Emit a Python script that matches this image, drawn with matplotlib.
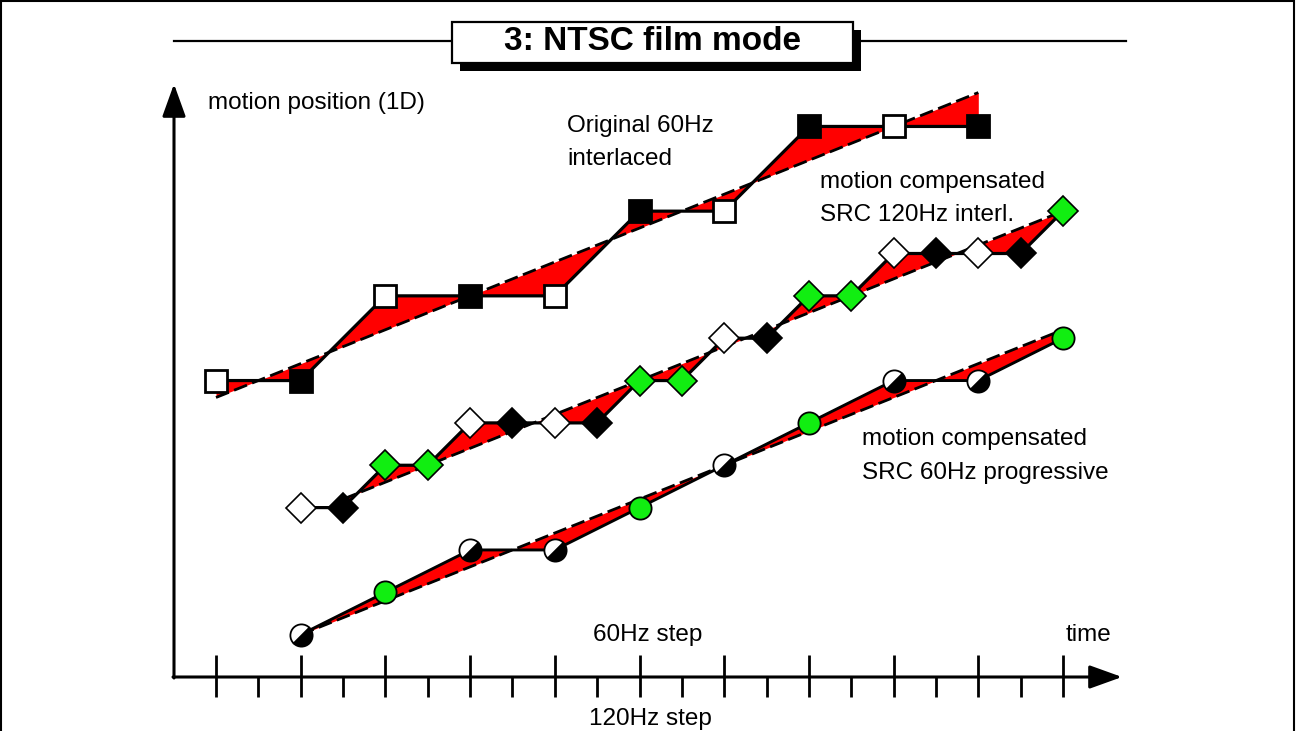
import numpy as np
import matplotlib
matplotlib.use("Agg")
import matplotlib.pyplot as plt
from matplotlib.markers import MarkerStyle
from matplotlib.patches import Rectangle
from matplotlib.transforms import Affine2D

plt.rcParams['font.family'] = ['Liberation Sans', 'DejaVu Sans']

# time in 120Hz steps, position in arbitrary units
t_top = [0, 2, 4, 6, 8, 10, 12, 14, 16, 18]
pos_top = [7, 7, 9, 9, 9, 11, 11, 13, 13, 13]
kind_top = ['w', 'k', 'w', 'k', 'w', 'k', 'w', 'k', 'w', 'k']
dash_top_t = [0, 18]
dash_top_pos = [6.6, 13.8]

t_mid = [2, 3, 4, 5, 6, 7, 8, 9, 10, 11, 12, 13, 14, 15, 16, 17, 18, 19, 20]
pos_mid = [4, 4, 5, 5, 6, 6, 6, 6, 7, 7, 8, 8, 9, 9, 10, 10, 10, 10, 11]
kind_mid = ['w', 'k', 'g', 'g', 'w', 'k', 'w', 'k', 'g', 'g',
            'w', 'k', 'g', 'g', 'w', 'k', 'w', 'k', 'g']
dash_mid_t = [3, 20]
dash_mid_pos = [4.2, 11.0]

t_bot = [2, 4, 6, 8, 10, 12, 14, 16, 18, 20]
pos_bot = [1, 2, 3, 3, 4, 5, 6, 7, 7, 8]
kind_bot = ['h', 'g', 'h', 'h', 'g', 'h', 'g', 'h', 'h', 'g']
dash_bot_t = [2, 20]
dash_bot_pos = [1.0, 8.2]

ticks_120 = list(range(0, 21))

W, H = 1297, 731
X0, Y0, STEP = 216, 677, 42.35
GREEN = '#11ee11'

fig = plt.figure(figsize=(W / 100, H / 100), dpi=100)
ax = fig.add_axes([0, 0, 1, 1])
ax.set_xlim((0 - X0) / STEP, (W - X0) / STEP)
ax.set_ylim((Y0 - H) / STEP, Y0 / STEP)
ax.axis('off')


def dx(px):
    return (px - X0) / STEP


def dy(py):
    return (Y0 - py) / STEP


def draw_series(t, pos, dash_t, dash_pos, lw):
    t = np.array(t, float)
    pos = np.array(pos, float)
    tf = t[(t >= dash_t[0]) & (t <= dash_t[1])]
    tf = np.unique(np.concatenate([[dash_t[0]], tf, [dash_t[1]]]))
    solid = np.interp(tf, t, pos)
    dash = np.interp(tf, dash_t, dash_pos)
    ax.fill_between(tf, solid, dash, color='red', lw=0, zorder=1)
    ax.plot(dash_t, dash_pos, color='black', lw=2.0, ls=(0, (5, 2)), zorder=2)
    ax.plot(t, pos, color='black', lw=lw, zorder=3, solid_capstyle='butt')


draw_series(t_top, pos_top, dash_top_t, dash_top_pos, 2.3)
draw_series(t_mid, pos_mid, dash_mid_t, dash_mid_pos, 2.3)
draw_series(t_bot, pos_bot, dash_bot_t, dash_bot_pos, 2.1)

# squares
for tt, pp, k in zip(t_top, pos_top, kind_top):
    ax.plot(tt, pp, marker='s', ms=16.5, mec='black', mew=2.0,
            mfc='white' if k == 'w' else 'black', zorder=5)

# diamonds
dcol = {'w': 'white', 'k': 'black', 'g': GREEN}
for tt, pp, k in zip(t_mid, pos_mid, kind_mid):
    ax.plot(tt, pp, marker='D', ms=15.5, mec='black', mew=1.2,
            mfc=dcol[k], zorder=5)

# circles
half = MarkerStyle('o', fillstyle='bottom', transform=Affine2D().rotate_deg(45))
for tt, pp, k in zip(t_bot, pos_bot, kind_bot):
    if k == 'h':
        ax.plot(tt, pp, marker=half, ms=16, mec='black', mew=1.3,
                mfc='black', mfcalt='white', zorder=5)
    else:
        ax.plot(tt, pp, marker='o', ms=16, mec='black', mew=1.3,
                mfc=GREEN, zorder=5)

# axes with arrows
ax.annotate('', xy=(dx(174), dy(84)), xytext=(dx(174), dy(678)),
            arrowprops=dict(arrowstyle='-|>,head_length=1.0,head_width=0.36',
                            lw=2.2, color='black', mutation_scale=20,
                            shrinkA=0, shrinkB=0))
ax.annotate('', xy=(dx(1122), dy(677)), xytext=(dx(173), dy(677)),
            arrowprops=dict(arrowstyle='-|>,head_length=1.0,head_width=0.36',
                            lw=2.2, color='black', mutation_scale=20,
                            shrinkA=0, shrinkB=0))

for tk in ticks_120:
    top = dy(655) if tk % 2 == 0 else dy(677)
    ax.plot([tk, tk], [top, dy(697)], color='black', lw=2.0,
            solid_capstyle='butt', zorder=4)

# labels
fs = 17.5
ax.text(dx(208), dy(103), 'motion position (1D)', fontsize=fs, va='center', ha='left')
ax.text(dx(567), dy(126), 'Original 60Hz', fontsize=fs, va='center', ha='left')
ax.text(dx(567), dy(159), 'interlaced', fontsize=fs, va='center', ha='left')
ax.text(dx(820), dy(182), 'motion compensated', fontsize=fs, va='center', ha='left')
ax.text(dx(820), dy(215), 'SRC 120Hz interl.', fontsize=fs, va='center', ha='left')
ax.text(dx(862), dy(439), 'motion compensated', fontsize=fs, va='center', ha='left')
ax.text(dx(862), dy(473), 'SRC 60Hz progressive', fontsize=fs, va='center', ha='left')
ax.text(dx(648), dy(635), '60Hz step', fontsize=fs, va='center', ha='center')
ax.text(dx(1088), dy(635), 'time', fontsize=fs, va='center', ha='center')
ax.text(dx(650), dy(719), '120Hz step', fontsize=fs, va='center', ha='center')

# title bar
ax.plot([dx(174), dx(1126)], [dy(41), dy(41)], color='black', lw=1.6, zorder=6)
ax.add_patch(Rectangle((dx(460), dy(71)), dx(861) - dx(460), dy(30) - dy(71),
                       facecolor='black', edgecolor='none', zorder=7))
ax.add_patch(Rectangle((dx(452), dy(63)), dx(853) - dx(452), dy(22) - dy(63),
                       facecolor='white', edgecolor='black', lw=1.6, zorder=8))
ax.text(dx(652), dy(42), '3: NTSC film mode', fontsize=24, fontweight='bold',
        va='center', ha='center', zorder=9)

# outer frame
fig.add_artist(Rectangle((0.001, -0.01), 0.997, 1.0085, transform=fig.transFigure,
                         fill=False, edgecolor='black', lw=1.5))

fig.savefig('out.png', dpi=100)
